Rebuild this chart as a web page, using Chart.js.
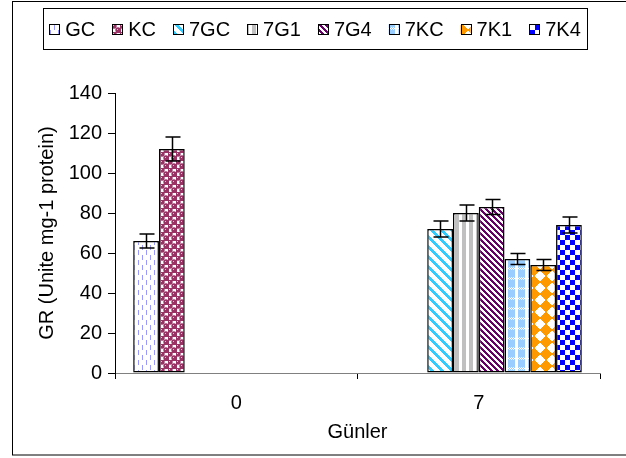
<!DOCTYPE html>
<html><head><meta charset="utf-8">
<script src="https://cdn.jsdelivr.net/npm/chart.js@4/dist/chart.umd.min.js"></script>
<style>html,body{margin:0;padding:0;background:#fff}canvas{display:block}</style>
</head><body>
<canvas id="c" width="626" height="458"></canvas>
<script>
// ---- data ----
const categories = ['0', '7'];
const seriesNames = ['GC', 'KC', '7GC', '7G1', '7G4', '7KC', '7K1', '7K4'];
const gcValues  = [66, null];
const kcValues  = [112, null];
const g7cValues = [null, 72];
const g71Values = [null, 80];
const g74Values = [null, 83];
const k7cValues = [null, 57];
const k71Values = [null, 54];
const k74Values = [null, 74];
const errorValues = [3.5, 6, 4, 4, 3.8, 2.8, 2.8, 4];
const yMin = 0, yMax = 140, yStep = 20;
const xTitle = 'Günler';
const yTitle = 'GR (Unite mg-1 protein)';

const seriesValues = [gcValues, kcValues, g7cValues, g71Values, g74Values, k7cValues, k71Values, k74Values];

// ---- patterns ----
const canvas = document.getElementById('c');
const mainCtx = canvas.getContext('2d');
function makePattern(w, h, fn) {
  const c = document.createElement('canvas');
  c.width = w; c.height = h;
  const g = c.getContext('2d');
  g.fillStyle = '#fff'; g.fillRect(0, 0, w, h);
  fn(g, w, h);
  return mainCtx.createPattern(c, 'repeat');
}
function px(g, col, test, w, h) {
  g.fillStyle = col;
  for (let y = 0; y < h; y++) for (let x = 0; x < w; x++) if (test(x, y)) g.fillRect(x, y, 1, 1);
}
const patterns = [
  makePattern(8, 10, (g) => { g.fillStyle = '#9999FF'; g.fillRect(2, 0, 1, 5); g.fillRect(6, 5, 1, 5); }),
  makePattern(8, 8, (g) => {
    g.fillStyle = '#993366';
    [[2,2],[6,6]].forEach(([cx, cy]) => { g.beginPath(); g.arc(cx, cy, 2.7, 0, Math.PI * 2); g.fill(); });
    g.fillRect(4, 0, 4, 1); g.fillRect(0, 4, 1, 4);
    g.fillStyle = '#e8c0d0'; g.fillRect(1, 1, 1, 1); g.fillRect(5, 5, 1, 1);
  }),
  makePattern(10, 10, (g, w, h) => px(g, '#33CCFF', (x, y) => ((x - y + 100) % 10) < 4, w, h)),
  makePattern(7, 1, (g) => { g.fillStyle = '#C0C0C0'; g.fillRect(0, 0, 4, 1); }),
  makePattern(6, 6, (g, w, h) => px(g, '#660066', (x, y) => ((x - y + 60) % 6) < 3, w, h)),
  makePattern(10, 10, (g, w, h) => {
    g.fillStyle = '#99CCFF'; g.fillRect(0, 0, w, h);
    g.fillStyle = '#fff'; g.fillRect(5, 0, 3, h);
    px(g, '#fff', (x, y) => y >= 7 && y <= 9 && (x + y) % 2 === 0, w, h);
  }),
  makePattern(12, 12, (g, w, h) => px(g, '#FF9900', (x, y) => Math.abs(x + 0.5 - 6) + Math.abs(y + 0.5 - 6) < 6.4, w, h)),
  makePattern(10, 10, (g, w, h) => px(g, '#0000FF', (x, y) => ((Math.floor(x / 5) + Math.floor(y / 5)) % 2) === 0, w, h)),
];

const FONT = "'Liberation Sans', Arial, sans-serif";
Chart.defaults.color = '#000';
Chart.defaults.font.family = FONT;

const datasets = seriesNames.map((name, i) => ({
  label: name,
  data: seriesValues[i],
  backgroundColor: patterns[i],
  borderColor: '#000',
  borderWidth: 1.5,
  borderSkipped: false,
  categoryPercentage: 0.85,
  barPercentage: 1.0,
}));

const framePlugin = {
  id: 'frame',
  beforeDraw(chart) {
    const c = chart.ctx;
    c.save();
    c.fillStyle = '#fff'; c.fillRect(0, 0, chart.width, chart.height);
    c.strokeStyle = '#000'; c.lineWidth = 1;
    c.strokeRect(12.5, 1.5, 700, 453.5);
    c.restore();
  }
};

const errorPlugin = {
  id: 'errbars',
  afterDatasetsDraw(chart) {
    const c = chart.ctx, ys = chart.scales.y;
    c.save();
    c.strokeStyle = '#000'; c.lineWidth = 1.5;
    chart.data.datasets.forEach((ds, i) => {
      const meta = chart.getDatasetMeta(i);
      meta.data.forEach((bar, j) => {
        const v = ds.data[j];
        if (v === null || v === undefined) return;
        const e = errorValues[i];
        const x = Math.round(bar.x) + 0.5;
        const yT = ys.getPixelForValue(v + e), yB = ys.getPixelForValue(v - e);
        c.beginPath();
        c.moveTo(x, yT); c.lineTo(x, yB);
        c.moveTo(x - 7, yT); c.lineTo(x + 8, yT);
        c.moveTo(x - 7, yB); c.lineTo(x + 8, yB);
        c.stroke();
      });
    });
    c.restore();
  }
};

const legendPlugin = {
  id: 'customLegend',
  afterDraw(chart) {
    const c = chart.ctx;
    c.save();
    c.strokeStyle = '#000'; c.lineWidth = 1;
    c.strokeRect(43.5, 8.5, 544, 41);
    c.font = '20px ' + FONT;
    c.textBaseline = 'middle';
    const sw = 10, gapS = 6;
    const widths = chart.data.datasets.map(d => c.measureText(d.label).width);
    const total = widths.reduce((a, b) => a + b, 0) + chart.data.datasets.length * (sw + gapS);
    const gap = 17;
    let x = 315 - (total + gap * (chart.data.datasets.length - 1)) / 2;
    const cy = 29;
    chart.data.datasets.forEach((d, i) => {
      c.fillStyle = d.backgroundColor;
      c.fillRect(x, cy - 5, sw, sw);
      c.strokeStyle = '#000'; c.lineWidth = 1;
      c.strokeRect(Math.round(x) + 0.5, cy - 5 + 0.5, sw, sw);
      c.fillStyle = '#000';
      c.fillText(d.label, x + sw + gapS, cy + 1);
      x += sw + gapS + widths[i] + gap;
    });
    c.restore();
  }
};

new Chart(canvas, {
  type: 'bar',
  data: { labels: categories, datasets },
  options: {
    responsive: false,
    devicePixelRatio: 1,
    animation: false,
    layout: { padding: { left: 30, top: 93, right: 26, bottom: 0 } },
    plugins: { legend: { display: false }, tooltip: { enabled: false } },
    scales: {
      x: {
        afterFit: (s) => { s.height = 85; },
        grid: { display: true, drawOnChartArea: false, drawTicks: true, tickLength: 6, color: '#000', offset: true },
        border: { display: true, color: '#808080', width: 1 },
        ticks: { font: { size: 20 }, padding: 12, color: '#000' },
        title: { display: true, text: xTitle, font: { size: 20 }, padding: { top: 0, bottom: 14 }, color: '#000' },
      },
      y: {
        min: yMin, max: yMax,
        afterFit: (s) => { s.width = 85; },
        grid: { display: true, drawOnChartArea: false, drawTicks: true, tickLength: 7, color: '#000' },
        border: { display: true, color: '#000', width: 1 },
        ticks: { stepSize: yStep, font: { size: 20 }, padding: 6, color: '#000' },
        title: { display: true, text: yTitle, font: { size: 20 }, padding: { top: 5, bottom: 0 }, color: '#000' },
      }
    }
  },
  plugins: [framePlugin, errorPlugin, legendPlugin]
});
</script>
</body></html>
